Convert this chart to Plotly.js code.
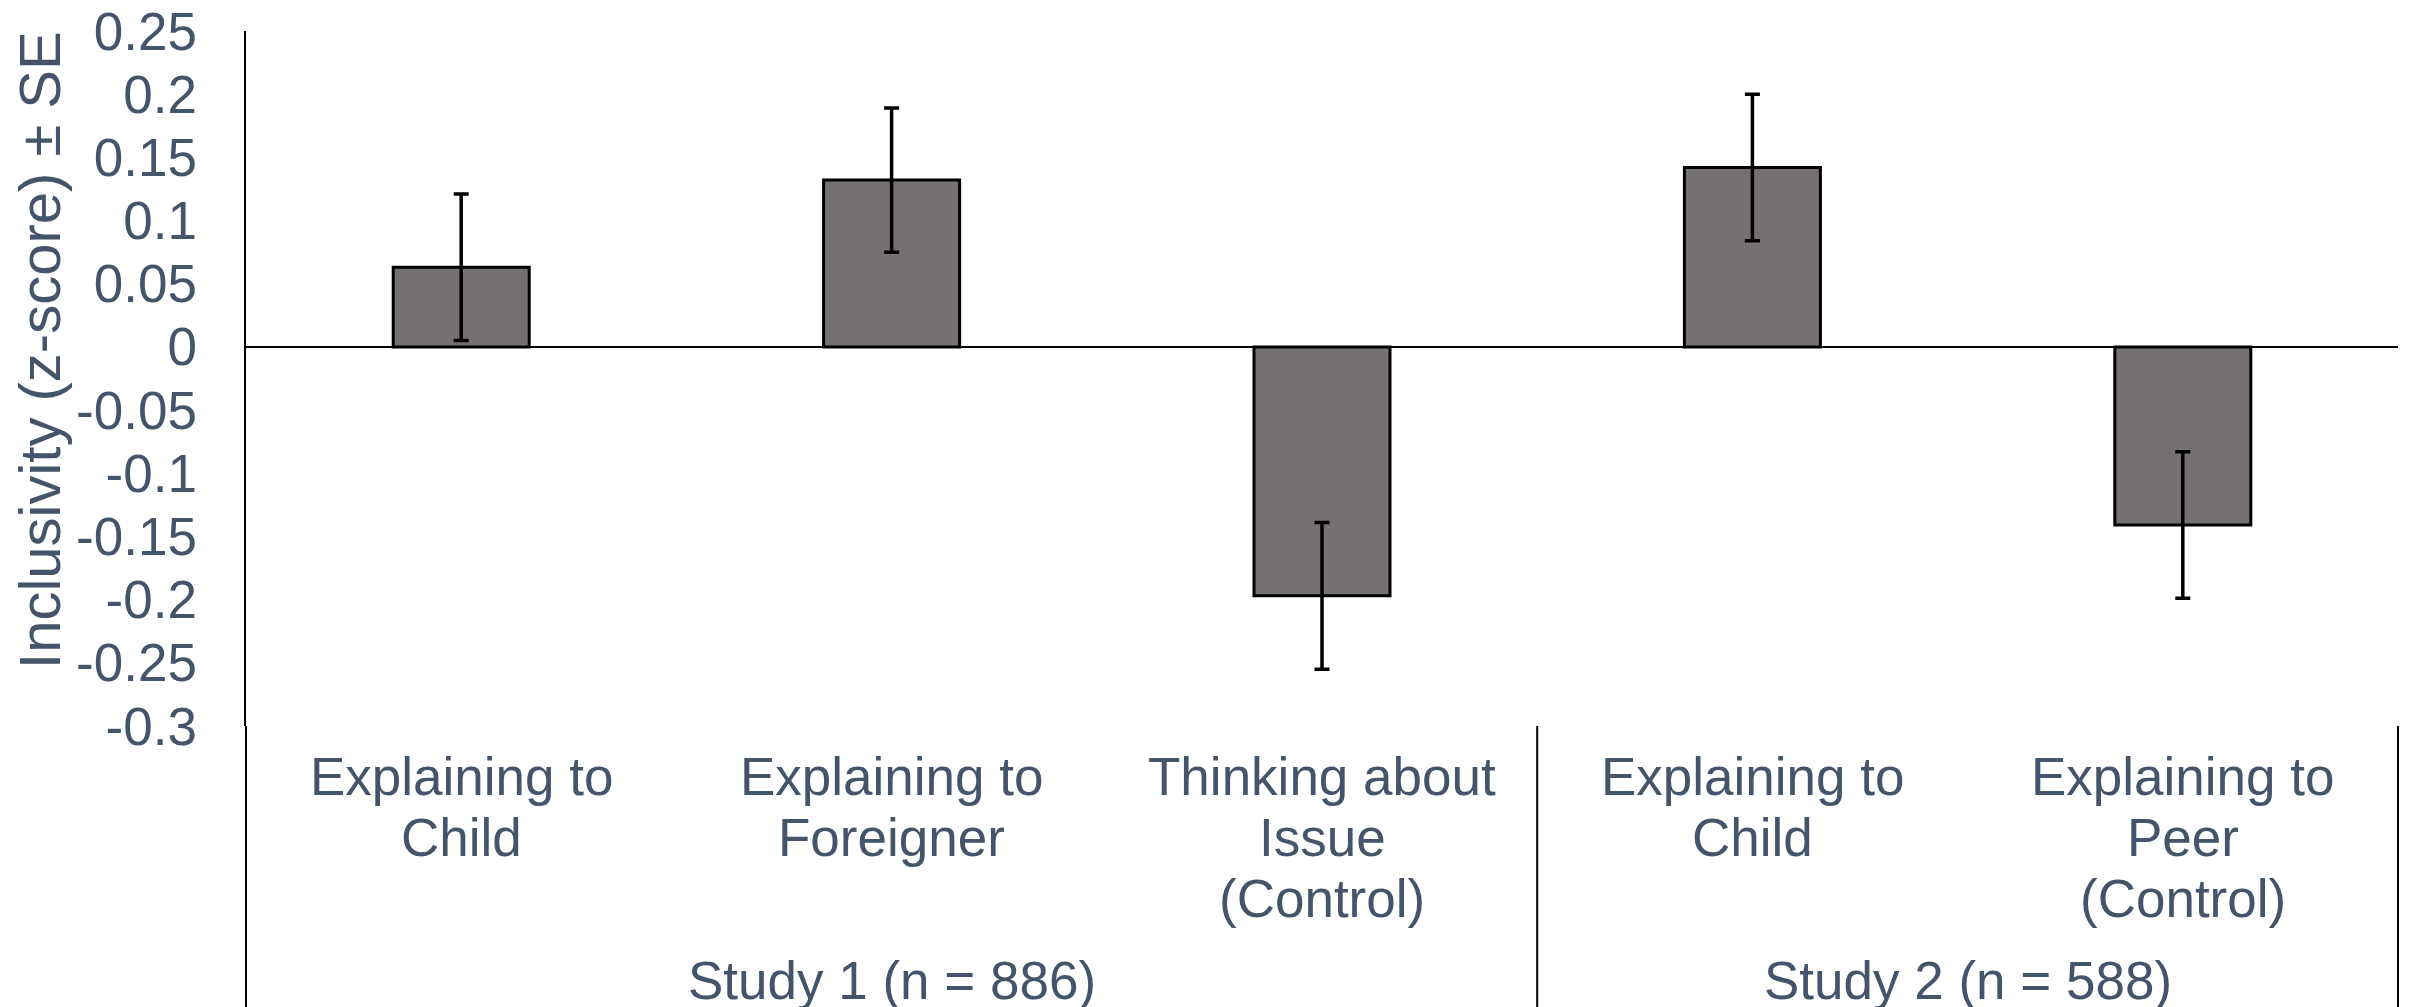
<!DOCTYPE html>
<html>
<head>
<meta charset="utf-8">
<script src="https://cdn.plot.ly/plotly-3.0.1.min.js"></script>
<style>
  html, body { margin: 0; padding: 0; background: #ffffff; }
  #chart { width: 2412px; height: 1007px; }
</style>
</head>
<body>
<div id="chart"></div>
<script>
// Condition labels, one array of lines per bar
const conditionLines = [
  ["Explaining to", "Child"],
  ["Explaining to", "Foreigner"],
  ["Thinking about", "Issue", "(Control)"],
  ["Explaining to", "Child"],
  ["Explaining to", "Peer", "(Control)"]
];
// Study each condition belongs to
const studies = ["Study 1 (n = 886)", "Study 2 (n = 588)"];
const studyOf = [0, 0, 0, 1, 1];

// Mean inclusivity (z-score) and standard error per condition
const means = [0.063, 0.132, -0.197, 0.142, -0.141];
const stdErr = [0.058, 0.057, 0.058, 0.058, 0.058];

// Value axis ticks and title
const yTickVals = [0.25, 0.2, 0.15, 0.1, 0.05, 0, -0.05, -0.1, -0.15, -0.2, -0.25, -0.3];
const yTickText = ["0.25", "0.2", "0.15", "0.1", "0.05", "0", "-0.05", "-0.1", "-0.15", "-0.2", "-0.25", "-0.3"];
const yTitle = "Inclusivity (z-score) ± SE";

const FONT = "Liberation Sans, Arial, Helvetica, sans-serif";
const TEXT_COLOR = "#44546A";
const FS = 53;

const xIdx = means.map((_, i) => i);

const bars = {
  type: "bar",
  x: xIdx,
  y: means,
  width: 0.316,
  marker: { color: "#767171", line: { color: "#000000", width: 3 } },
  error_y: { type: "data", array: stdErr, visible: true, color: "#000000", thickness: 3.5, width: 7.5 },
  hoverinfo: "skip"
};

const annotations = [];

// Rotated value-axis title, left of the tick labels
annotations.push({
  x: -0.0962, xref: "paper", y: 0.541, yref: "paper",
  xanchor: "center", yanchor: "middle", textangle: -90,
  text: yTitle, showarrow: false,
  font: { family: FONT, size: 58, color: TEXT_COLOR }
});

// Category labels under the plot, one annotation per text line
const lineOffsets = [-50, -111, -172];
conditionLines.forEach((lines, i) => {
  lines.forEach((t, k) => {
    annotations.push({
      x: i, xref: "x", y: 0, yref: "paper",
      yanchor: "middle", xanchor: "center",
      yshift: lineOffsets[k],
      text: t, showarrow: false,
      font: { family: FONT, size: FS, color: TEXT_COLOR }
    });
  });
});

// Group labels, centred under their conditions
const n = means.length;
const groupBounds = [0];
studies.forEach((s, g) => {
  const members = xIdx.filter(i => studyOf[i] === g);
  const centre = (members[0] + members[members.length - 1]) / 2;
  annotations.push({
    x: centre, xref: "x", y: 0, yref: "paper",
    yanchor: "middle", xanchor: "center", yshift: -254,
    text: s, showarrow: false,
    font: { family: FONT, size: FS, color: TEXT_COLOR }
  });
  groupBounds.push((members[members.length - 1] + 1) / n);
});

// Divider lines between the study groups, running down through the labels
const bottom = -0.42;
const shapes = groupBounds.map(b => ({
  type: "line", xref: "paper", yref: "paper",
  x0: b, x1: b, y0: 0, y1: bottom,
  line: { color: "#000000", width: 2 }
}));

const layout = {
  width: 2412,
  height: 1007,
  margin: { l: 246, r: 14, t: 31, b: 281, pad: 0 },
  paper_bgcolor: "#ffffff",
  plot_bgcolor: "#ffffff",
  showlegend: false,
  font: { family: FONT, size: FS, color: TEXT_COLOR },
  xaxis: {
    range: [-0.5, n - 0.5],
    showticklabels: false, showgrid: false, zeroline: false, showline: false, ticks: ""
  },
  yaxis: {
    range: [-0.3, 0.25],
    tickmode: "array", tickvals: yTickVals, ticktext: yTickText,
    tickfont: { family: FONT, size: FS, color: TEXT_COLOR },
    ticks: "", ticklabelstandoff: 36,
    showgrid: false,
    zeroline: true, zerolinecolor: "#000000", zerolinewidth: 2.5,
    showline: true, linecolor: "#000000", linewidth: 2.5
  },
  annotations: annotations,
  shapes: shapes
};

Plotly.newPlot("chart", [bars], layout, { displayModeBar: false, staticPlot: true });
</script>
</body>
</html>
